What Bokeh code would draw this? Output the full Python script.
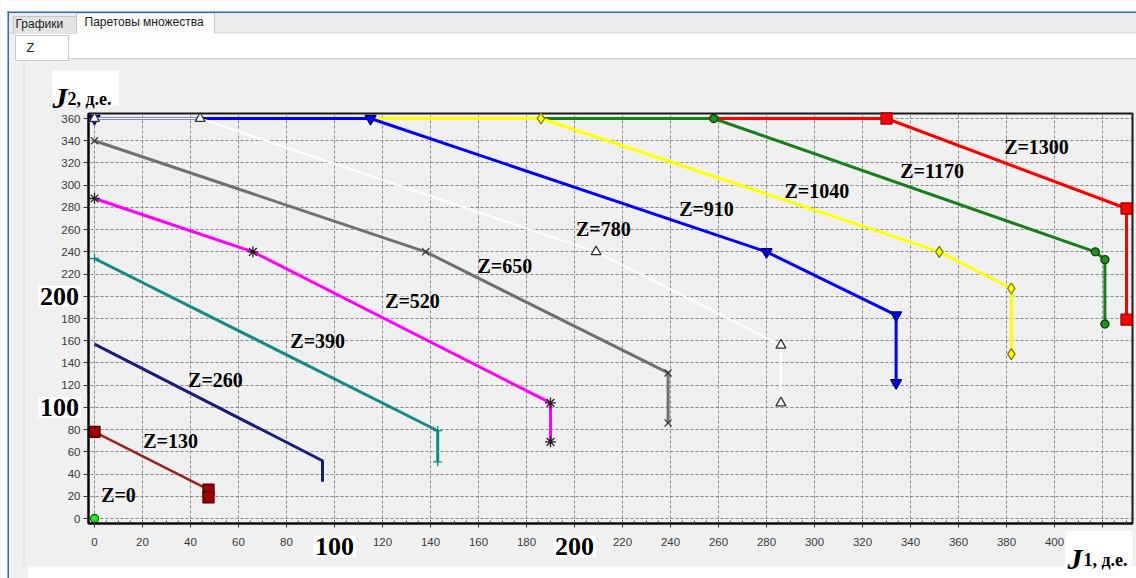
from bokeh.plotting import figure
from bokeh.models import Label, BoxAnnotation, FixedTicker, Range1d
from bokeh.embed import file_html
from bokeh.resources import INLINE

# ---------------- data ----------------
x_ticks = list(range(0, 421, 20))
y_ticks = list(range(0, 361, 20))
x_minor = list(range(0, 431, 5))

z0_j1 = [0]
z0_j2 = [0]
z130_j1 = [0, 47.5, 47.5]
z130_j2 = [78, 26, 19]
z260_j1 = [0, 95, 95]
z260_j2 = [157, 52, 33]
z390_j1 = [0, 143, 143]
z390_j2 = [234, 79, 51]
z520_j1 = [0, 66, 190, 190]
z520_j2 = [288, 240, 104, 69]
z650_j1 = [0, 138, 239, 239]
z650_j2 = [340, 240, 131, 86]
z780_j1 = [0, 44, 209, 286, 286]
z780_j2 = [360, 360, 240, 156, 104]
z910_j1 = [0, 115, 280, 334, 334]
z910_j2 = [360, 360, 240, 183, 122]
z1040_j1 = [0, 186, 352, 382, 382]
z1040_j2 = [360, 360, 240, 207, 148]
z1170_j1 = [0, 258, 417, 421, 421]
z1170_j2 = [360, 360, 240, 233, 175]
z1300_j1 = [0, 330, 430, 430]
z1300_j2 = [360, 360, 279, 179]

label_texts = ["Z=0", "Z=130", "Z=260", "Z=390", "Z=520", "Z=650",
               "Z=780", "Z=910", "Z=1040", "Z=1170", "Z=1300"]
label_j1 = [10, 31.7, 50.4, 93, 132.5, 171, 212, 255, 301, 349, 392.5]
label_j2 = [21.6, 70, 125, 160, 196, 227, 261, 279, 295, 313, 334]

big_ticks = [100, 200]

# ---------------- geometry (pixels of the window) ----------------
W, H = 1136, 578
X0, PPX = 94.0, 2.4          # pixel of J1 = 0, pixels per unit
Y0, PPY = 518.0, 400.0 / 360 # pixel of J2 = 0, pixels per unit


def cx(px):
    return (px - X0) / PPX


def cy(py):
    return (Y0 - py) / PPY


PL, PR, PT, PB = 88, 1132, 113, 523   # plot-area edges in pixels

p = figure(width=W, height=H, output_backend="svg", toolbar_location=None,
           x_range=Range1d(cx(0), cx(W)), y_range=Range1d(cy(H), cy(0)),
           min_border=0, min_border_left=0, min_border_right=0,
           min_border_top=0, min_border_bottom=0,
           background_fill_color="#f0f0f0", border_fill_color="#f0f0f0")
p.outline_line_color = None

# axes drawn at the plot-area edges
p.xaxis.fixed_location = cy(PB)
p.yaxis.fixed_location = cx(PL)
p.xaxis.bounds = (cx(PL), cx(PR))
p.yaxis.bounds = (cy(PB), cy(PT))
p.xaxis.ticker = FixedTicker(ticks=x_ticks, minor_ticks=x_minor)
p.yaxis.ticker = FixedTicker(ticks=y_ticks)
p.xaxis.major_label_overrides = {100: "", 200: "", 420: ""}
p.yaxis.major_label_overrides = {100: "", 200: ""}
for ax in (p.xaxis, p.yaxis):
    ax.axis_line_color = "#000000"
    ax.axis_line_width = 2
    ax.major_tick_line_color = "#333333"
    ax.major_tick_in = 0
    ax.major_label_text_font = "Liberation Sans"
    ax.major_label_text_font_size = "11.5px"
    ax.major_label_text_color = "#3a3a3a"
p.xaxis.major_tick_out = 4
p.xaxis.major_label_standoff = 10
p.xaxis.minor_tick_in = 3
p.xaxis.minor_tick_out = 0
p.xaxis.minor_tick_line_color = "#555555"
p.yaxis.major_tick_out = 5
p.yaxis.major_label_standoff = 3
p.yaxis.minor_tick_line_color = None

p.xgrid.ticker = FixedTicker(ticks=x_ticks)
p.ygrid.ticker = FixedTicker(ticks=y_ticks)
for g in (p.xgrid, p.ygrid):
    g.grid_line_color = "#888888"
    g.grid_line_dash = "3 2"
    g.grid_line_width = 1


def box(l, r, t, b, fill, line=None, lw=1, level="underlay"):
    p.add_layout(BoxAnnotation(left=cx(l), right=cx(r), top=cy(t), bottom=cy(b),
                               fill_color=fill if fill else "#000000",
                               fill_alpha=1 if fill else 0,
                               line_color=line if line else "#000000",
                               line_width=lw, line_alpha=1 if line else 0,
                               level=level))


# hide the grid outside the plot area
box(0, W, 0, PT, "#f0f0f0")
box(0, W, PB, H, "#f0f0f0")
box(0, PL, 0, H, "#f0f0f0")
box(PR, W, 0, H, "#f0f0f0")

# window chrome
box(0, W, 0, 11, "#ffffff")
box(0, 7, 0, H, "#ffffff")
box(8, W, 12, 33, "#ececec")
box(8, W, 32, 33, "#d4d4d4")
box(13, 76, 16, 33, "#e4e4e4", "#c4c4c4")
box(76, 214, 12.5, 34, "#fbfbfb", "#c8c8c8")
box(15, W, 33, 58, "#ffffff")
box(68, W, 57.5, 59, "#d6d6d6")
box(15, 68, 35, 60, "#ffffff", "#c8c8c8")
box(23, 24, 60, 566, "#d8d8d8")
box(28, W, 566, H, "#ffffff")
box(7, W, 11, 12.5, "#2b6cc4")
box(7, 8.5, 11, H, "#2b6cc4")

# white boxes behind the axis titles
box(52, 118, 70, 105, "#ffffff")
box(1065, 1132, 530, 565, "#ffffff")

# plot-area border
box(PL, PR, PT, PB, None, "#1a1a1a", 2)

# series: drawn from the highest Z down so that lower Z lie on top
series = [
    (z1300_j1, z1300_j2, "#ff0000", 3, "square", 11, "#ff0000", "#a00000", 1),
    (z1170_j1, z1170_j2, "#1a7f1a", 3, "circle", 8, "#1f8f1f", "#0b3d0b", 1),
    (z1040_j1, z1040_j2, "#ffff00", 3, "diamond", 11, "#ffff00", "#7a7a00", 1),
    (z910_j1, z910_j2, "#0000ff", 3, "inverted_triangle", 11, "#0000ff", "#000060", 0),
    (z780_j1, z780_j2, "#ffffff", 2, "triangle", 10, "#ffffff", "#333333", 0),
    (z650_j1, z650_j2, "#707070", 3, "x", 10, None, "#3a3a3a", 0),
    (z520_j1, z520_j2, "#ff00ff", 3, "asterisk", 11, None, "#222222", 0),
    (z390_j1, z390_j2, "#148a82", 3, "cross", 9, None, "#148a82", 0),
    (z260_j1, z260_j2, "#1c1c7c", 3, None, 0, None, None, 0),
    (z130_j1, z130_j2, "#a0201a", 2.5, "square", 11, "#a00000", "#4a0000", 0),
    (z0_j1, z0_j2, "#00dd00", 2, "circle", 8, "#22ee22", "#116611", 0),
]
for j1, j2, color, lw, marker, size, fill, line, start in series:
    if len(j1) > 1:
        p.line(j1, j2, line_color=color, line_width=lw)
    if marker:
        p.scatter(j1[start:], j2[start:], marker=marker, size=size,
                  fill_color=fill, line_color=line, line_width=1.3)

for t, lx, ly in zip(label_texts, label_j1, label_j2):
    p.add_layout(Label(x=lx, y=ly, text=t, text_font="Liberation Serif",
                       text_font_style="bold", text_font_size="20px",
                       text_color="#000000", text_align="center",
                       text_baseline="middle"))


def txt(x, y, s, size="12px", font="Liberation Sans", style="normal",
        align="left", baseline="middle", color="#222222", bg=None):
    p.add_layout(Label(x=x, y=y, text=s, text_font=font,
                       text_font_size=size, text_font_style=style,
                       text_align=align, text_baseline=baseline, text_color=color,
                       background_fill_color=bg if bg else "#ffffff",
                       background_fill_alpha=1 if bg else 0,
                       padding=2 if bg else 0))


txt(cx(15), cy(23), "Графики")
txt(cx(84), cy(21), "Паретовы множества")
txt(cx(26), cy(47), "Z", size="13px")

# axis titles
txt(cx(52), cy(97), "J", size="30px", font="Liberation Serif", style="bold italic",
    baseline="alphabetic", color="#000000")
txt(cx(67), cy(98), "2, д.е.", size="18px", font="Liberation Serif", style="bold",
    baseline="alphabetic", color="#000000")
txt(cx(1067), cy(558), "J", size="30px", font="Liberation Serif", style="bold italic",
    baseline="alphabetic", color="#000000")
txt(cx(1083), cy(559), "1, д.е.", size="18px", font="Liberation Serif", style="bold",
    baseline="alphabetic", color="#000000")

# big tick numbers
for v in big_ticks:
    txt(cx(59), v, str(v), size="26px", font="Liberation Serif", style="bold",
        align="center", color="#000000", bg="#ffffff")
    txt(v, cy(546), str(v), size="26px", font="Liberation Serif", style="bold",
        align="center", color="#000000", bg="#ffffff")

open("out.html", "w").write(file_html(p, INLINE))
